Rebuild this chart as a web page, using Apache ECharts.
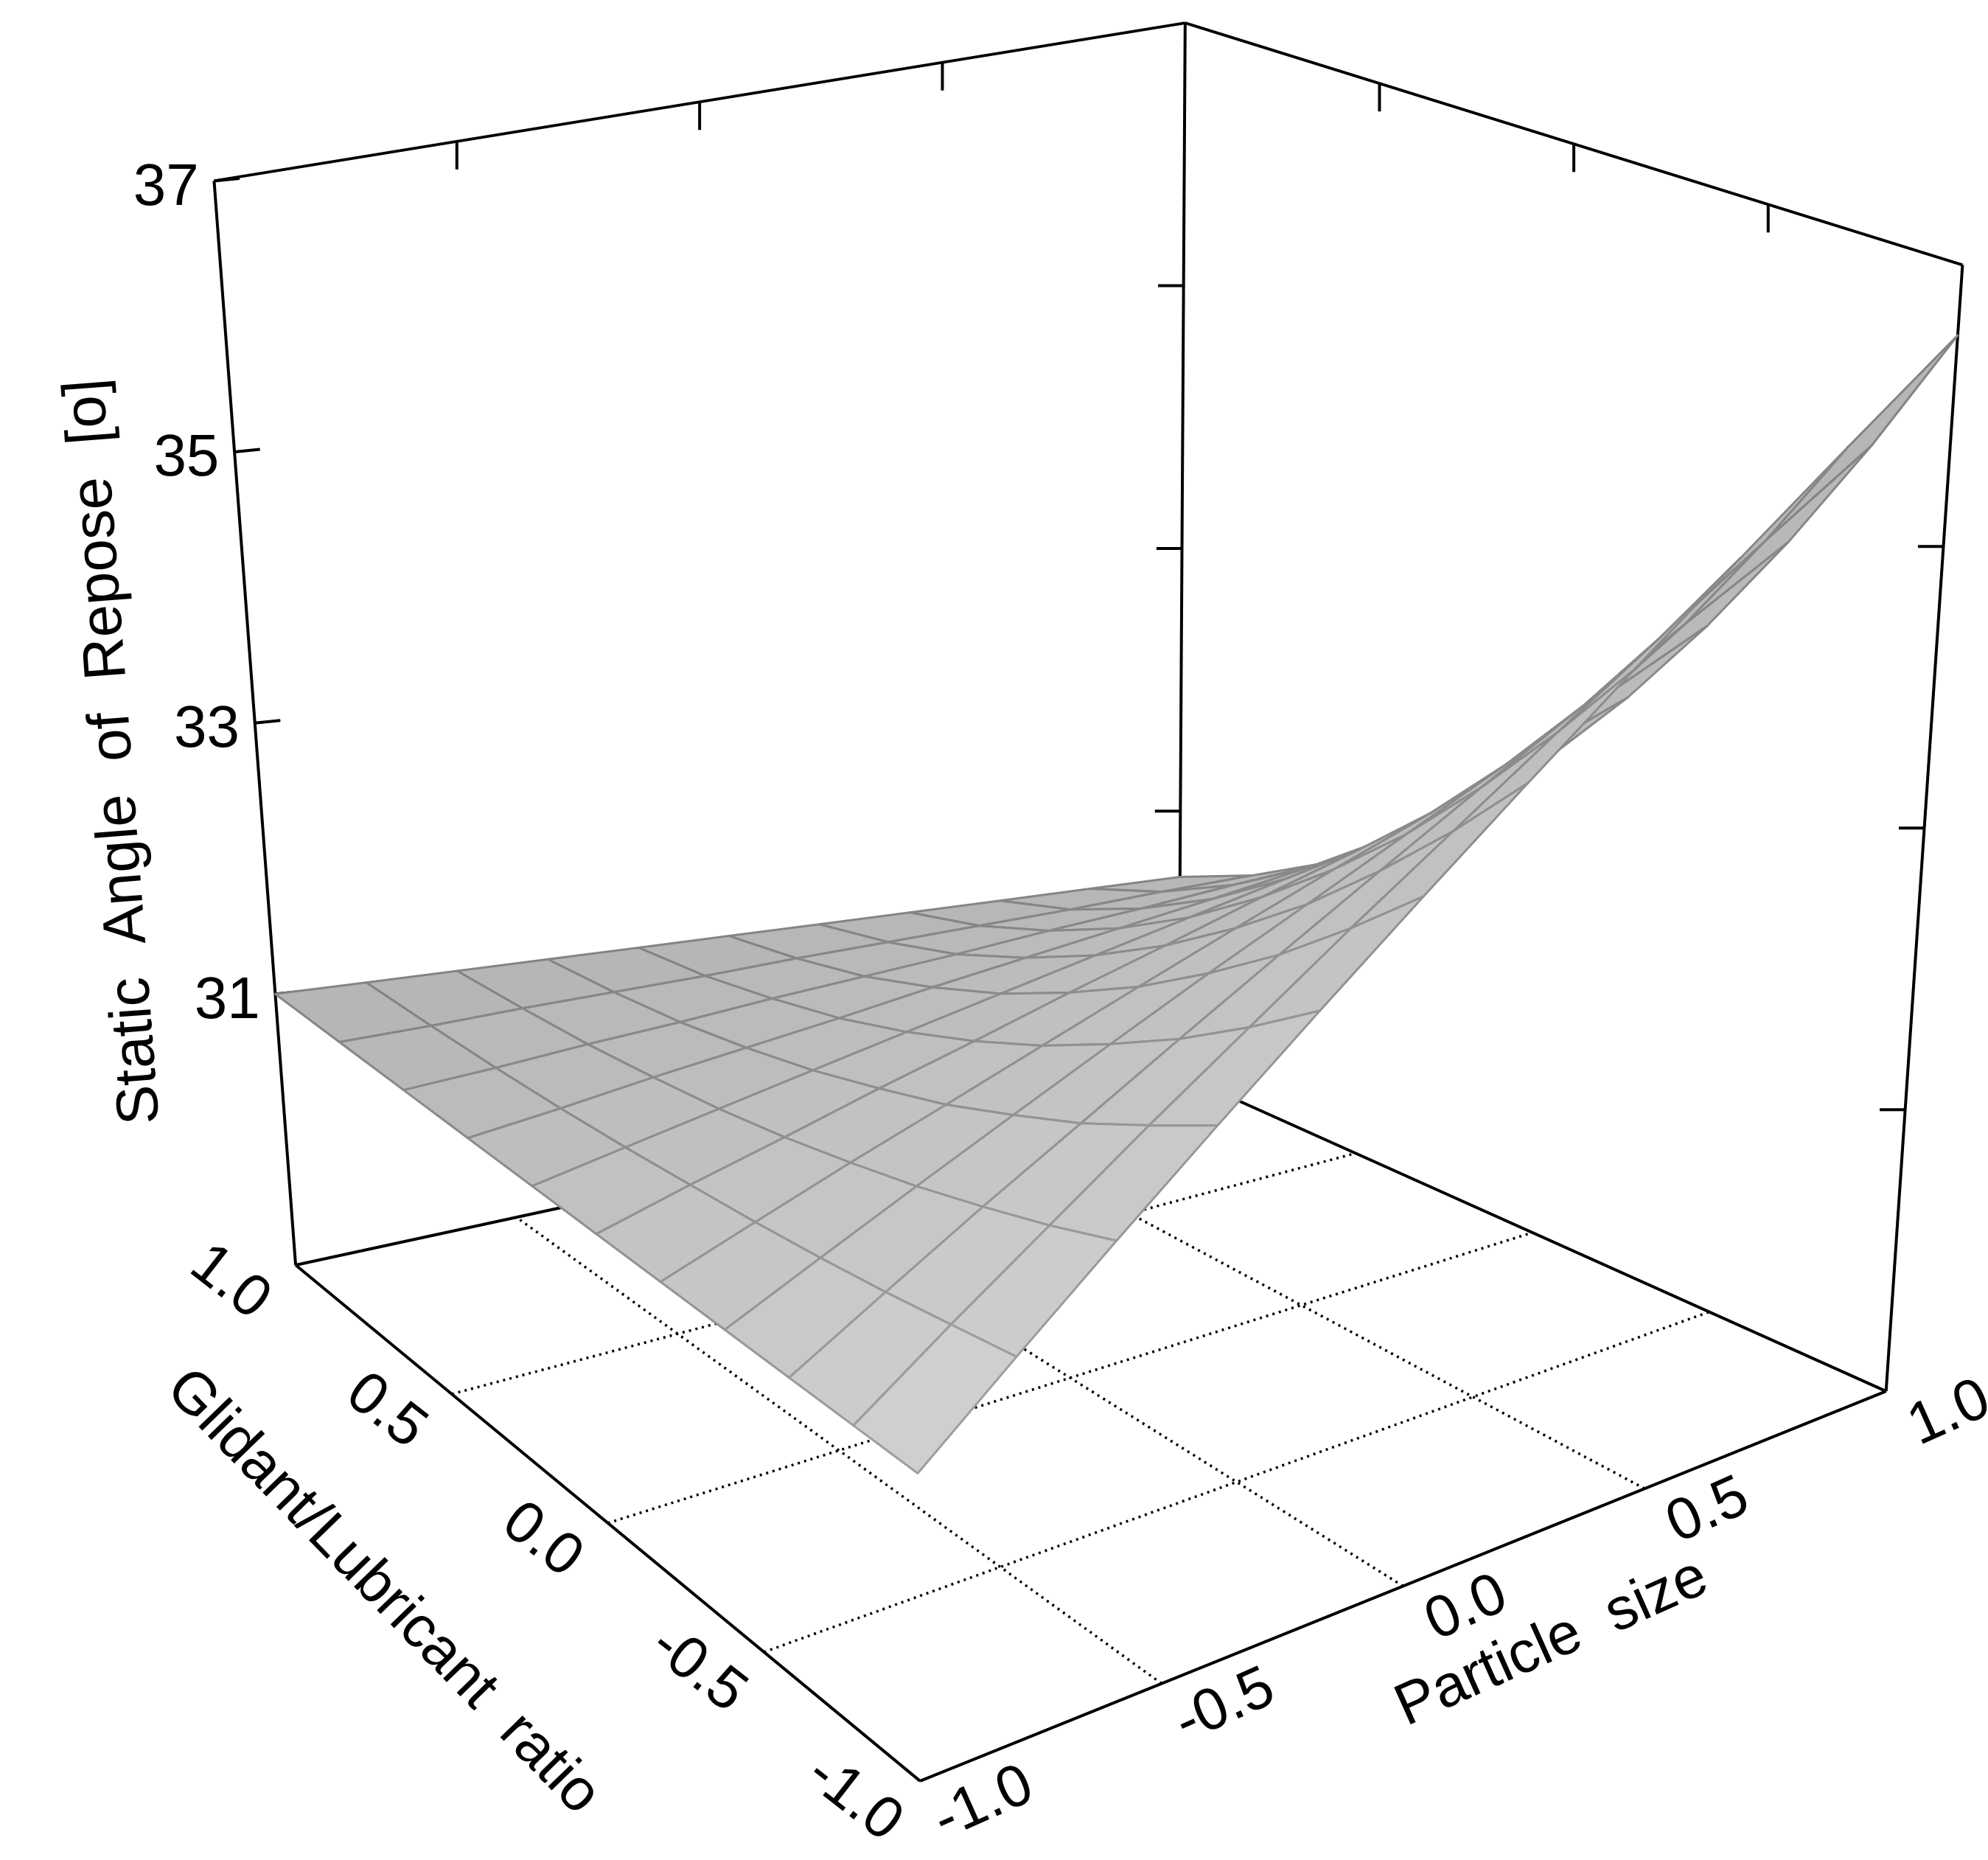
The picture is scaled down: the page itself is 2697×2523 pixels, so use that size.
<!DOCTYPE html>
<html><head><meta charset="utf-8">
<script src="https://cdn.jsdelivr.net/npm/echarts@6/dist/echarts.min.js"></script>
<style>html,body{margin:0;padding:0;background:#fff}#c{width:2697px;height:2523px}</style>
</head><body><div id="c"></div>
<script>
// ---- data ----
const particle = [-1,-0.8,-0.6,-0.4,-0.2,0,0.2,0.4,0.6,0.8,1];
const glidant  = [-1,-0.8,-0.6,-0.4,-0.2,0,0.2,0.4,0.6,0.8,1];
// rows: glidant (-1 .. 1), columns: particle (-1 .. 1)
const zValues = [
 [31.10,31.64,32.18,32.72,33.26,33.80,34.34,34.88,35.42,35.96,36.50],
 [31.09,31.54,31.98,32.43,32.87,33.32,33.76,34.21,34.65,35.10,35.54],
 [31.08,31.44,31.80,32.15,32.51,32.87,33.23,33.59,33.94,34.30,34.66],
 [31.07,31.35,31.63,31.91,32.19,32.47,32.74,33.02,33.30,33.58,33.86],
 [31.06,31.27,31.48,31.68,31.89,32.10,32.31,32.52,32.72,32.93,33.14],
 [31.05,31.20,31.34,31.49,31.63,31.78,31.92,32.07,32.21,32.36,32.50],
 [31.04,31.13,31.22,31.31,31.40,31.49,31.58,31.67,31.76,31.85,31.94],
 [31.03,31.07,31.12,31.16,31.20,31.25,31.29,31.33,31.37,31.42,31.46],
 [31.02,31.02,31.03,31.03,31.04,31.04,31.04,31.05,31.05,31.06,31.06],
 [31.01,30.98,30.96,30.93,30.90,30.88,30.85,30.82,30.79,30.77,30.74],
 [31.00,30.95,30.90,30.85,30.80,30.75,30.70,30.65,30.60,30.55,30.50]
];
const zTicks = [31,33,35,37];
const zTickLabels = ['31','33','35','37'];
const floorTicks = [-1,-0.5,0,0.5,1];
const floorTickLabels = ['-1.0','-0.5','0.0','0.5','1.0'];
const zMin = 29, zMax = 37;

// ---- projection (screen space of a 1560x1460 frame) ----
const C = {B00:[722,1398],B10:[1480,1092],B01:[232,993],B11:[925,843],
           T00:[715,478],T10:[1540,208],T01:[168,142],T11:[930,18]};
function bil(a,b,c,d,u,v){
  return [ (1-u)*(1-v)*a[0]+u*(1-v)*b[0]+(1-u)*v*c[0]+u*v*d[0],
           (1-u)*(1-v)*a[1]+u*(1-v)*b[1]+(1-u)*v*c[1]+u*v*d[1] ];
}
function proj(p,g,z){
  const u=(p+1)/2, v=(g+1)/2, w=(z-zMin)/(zMax-zMin);
  const b=bil(C.B00,C.B10,C.B01,C.B11,u,v), t=bil(C.T00,C.T10,C.T01,C.T11,u,v);
  return [b[0]+(t[0]-b[0])*w, b[1]+(t[1]-b[1])*w];
}
const FONT = 'Liberation Sans, Arial, sans-serif';
function mix(c1,c2,t){return 'rgb('+c1.map((x,k)=>Math.round(x+(c2[k]-x)*t)).join(',')+')';}

const quads=[];
for(let i=0;i<glidant.length-1;i++)for(let j=0;j<particle.length-1;j++){
  const u=(particle[j]+particle[j+1])/4+0.5, v=(glidant[i]+glidant[i+1])/4+0.5;
  const zc=(zValues[i][j]+zValues[i][j+1]+zValues[i+1][j]+zValues[i+1][j+1])/4;
  quads.push([i,j,0.64*(u+v)-0.42*(zc-zMin)/(zMax-zMin)]);
}
quads.sort((a,b)=>b[2]-a[2]);

const chart = echarts.init(document.getElementById('c'));
function line(api,a,b,extra){
  const p1=api.coord(a), p2=api.coord(b);
  return Object.assign({type:'line',shape:{x1:p1[0],y1:p1[1],x2:p2[0],y2:p2[1]},style:{stroke:'#000',lineWidth:4}},extra||{});
}
function text(api,pt,str,size,rot,align){
  const q=api.coord(pt);
  return {type:'text',x:q[0],y:q[1],rotation:rot||0,style:{text:str,fontSize:size,fontFamily:FONT,fill:'#000',align:align||'center',verticalAlign:'middle'}};
}

const backSeries = {type:'custom',coordinateSystem:'cartesian2d',data:[[0,0]],clip:false,silent:true,
 renderItem(params,api){
  const ch=[];
  const dash={style:{stroke:'#000',lineWidth:3.5,lineDash:[3,6]}};
  floorTicks.slice(1,-1).forEach(t=>{
    ch.push(line(api,proj(t,-1,zMin),proj(t,1,zMin),dash));
    ch.push(line(api,proj(-1,t,zMin),proj(1,t,zMin),dash));
  });
  ch.push(line(api,proj(-1,1,zMin),proj(1,1,zMin)));
  ch.push(line(api,proj(1,1,zMin),proj(1,-1,zMin)));
  ch.push(line(api,proj(-1,1,zMin),proj(-1,1,zMax)));
  ch.push(line(api,proj(1,1,zMin),proj(1,1,zMax)));
  ch.push(line(api,proj(1,-1,zMin),proj(1,-1,zMax)));
  ch.push(line(api,proj(-1,1,zMax),proj(1,1,zMax)));
  ch.push(line(api,proj(1,1,zMax),proj(1,-1,zMax)));
  floorTicks.slice(1,-1).forEach(t=>{
    let a=proj(t,1,zMax); ch.push(line(api,a,[a[0],a[1]+22]));
    a=proj(1,t,zMax); ch.push(line(api,a,[a[0],a[1]+22]));
  });
  zTicks.forEach((z,k)=>{
    let a=proj(-1,1,z); ch.push(line(api,a,[a[0]+20,a[1]-2]));
    ch.push(text(api,[a[0]-12,a[1]+6],zTickLabels[k],80,0,'right'));
    if(z<zMax){
      a=proj(1,1,z); ch.push(line(api,a,[a[0]-20,a[1]]));
      a=proj(1,-1,z); ch.push(line(api,a,[a[0]-20,a[1]]));
    }
  });
  ch.push(text(api,[90,590],'Static  Angle  of  Repose  [o]',80,Math.PI/2+0.075));
  return {type:'group',children:ch};
 }};

const surfSeries = {type:'custom',coordinateSystem:'cartesian2d',data:quads,clip:false,silent:true,
 renderItem(params,api){
  const i=api.value(0), j=api.value(1);
  const cs=[[i,j],[i,j+1],[i+1,j+1],[i+1,j]];
  const pts=cs.map(([a,b])=>api.coord(proj(particle[b],glidant[a],zValues[a][b])));
  const zc=(zValues[i][j]+zValues[i][j+1]+zValues[i+1][j]+zValues[i+1][j+1])/4;
  const v=(glidant[i]+glidant[i+1])/4+0.5;
  let t=0.5*v+0.5*(zc-31)/5.5; t=Math.max(0,Math.min(1,t));
  return {type:'polygon',shape:{points:pts},
    style:{fill:mix([210,210,210],[150,150,150],t),stroke:mix([160,160,160],[100,100,100],t),lineWidth:3,lineJoin:'round'}};
 }};

const frontSeries = {type:'custom',coordinateSystem:'cartesian2d',data:[[0,0]],clip:false,silent:true,
 renderItem(params,api){
  const ch=[];
  ch.push(line(api,proj(-1,1,zMin),proj(-1,-1,zMin)));
  ch.push(line(api,proj(-1,-1,zMin),proj(1,-1,zMin)));
  const rl=-0.66, rr=0.42;
  floorTicks.forEach((t,k)=>{
    let a=proj(-1,t,zMin);
    ch.push(text(api,[a[0]-52,a[1]+14],floorTickLabels[k],80,rl));
    a=proj(t,-1,zMin);
    ch.push(text(api,[a[0]+50,a[1]+18],floorTickLabels[k],80,rr));
  });
  ch.push(text(api,[300,1250],'Glidant/Lubricant  ratio',80,-0.80));
  ch.push(text(api,[1218,1290],'Particle  size',80,0.42));
  return {type:'group',children:ch};
 }};

chart.setOption({
  animation:false,
  grid:{left:0,right:0,top:0,bottom:0},
  xAxis:{type:'value',min:0,max:1560,show:false},
  yAxis:{type:'value',min:0,max:1460,inverse:true,show:false},
  series:[backSeries,surfSeries,frontSeries]
});
</script></body></html>
